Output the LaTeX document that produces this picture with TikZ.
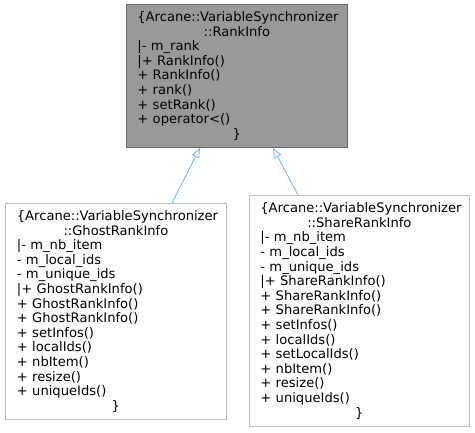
\documentclass[tikz,border=0pt]{standalone}
\usepackage{fontspec}
\setmainfont{DejaVu Sans}
\usetikzlibrary{arrows.meta,calc}
\definecolor{inhcol}{HTML}{63B8FF}
\definecolor{rootfill}{HTML}{999999}
\definecolor{rootline}{HTML}{666666}
\definecolor{boxline}{HTML}{BFBFBF}
\tikzset{
  cls/.style={draw, rectangle, inner xsep=0pt, inner ysep=0pt, line width=0.8bp,
    font=\fontsize{13.1bp}{14.6bp}\selectfont, anchor=north west},
  rootcls/.style={cls, draw=rootline, fill=rootfill},
  subcls/.style={cls, draw=boxline, fill=white},
  inh/.style={draw=inhcol, line width=0.8bp,
    {Triangle[open, length=10bp, width=8bp, fill=white]}-},
}
\begin{document}
\begin{tikzpicture}[x=1bp, y=-1bp]
\path[use as bounding box, fill=white] (0,0) rectangle (475,432);
\node[rootcls, minimum width=221bp, minimum height=143bp, text width=199bp] (rank) at (126,4)
 {\centering \{Arcane::VariableSynchronizer\\::RankInfo\par
  \raggedright |- m\_rank\\|+ RankInfo()\\+ RankInfo()\\+ rank()\\+ setRank()\\+ operator<()\par
  \centering \}\par};
\node[subcls, minimum width=221bp, minimum height=216bp, text width=198bp] (ghost) at (5,203)
 {\centering \{Arcane::VariableSynchronizer\\::GhostRankInfo\par
  \raggedright |- m\_nb\_item\\- m\_local\_ids\\- m\_unique\_ids\\|+ GhostRankInfo()\\+ GhostRankInfo()\\+ GhostRankInfo()\\+ setInfos()\\+ localIds()\\+ nbItem()\\+ resize()\\+ uniqueIds()\par
  \centering \}\par};
\node[subcls, minimum width=220bp, minimum height=231bp, text width=198bp] (share) at (249,195)
 {\centering \{Arcane::VariableSynchronizer\\::ShareRankInfo\par
  \raggedright |- m\_nb\_item\\- m\_local\_ids\\- m\_unique\_ids\\|+ ShareRankInfo()\\+ ShareRankInfo()\\+ ShareRankInfo()\\+ setInfos()\\+ localIds()\\+ setLocalIds()\\+ nbItem()\\+ resize()\\+ uniqueIds()\par
  \centering \}\par};
\draw[inh] ($(rank.south west)+(74,0)$) -- ($(ghost.north west)+(167,0)$);
\draw[inh] ($(rank.south west)+(147,0)$) -- ($(share.north west)+(49,0)$);
\end{tikzpicture}
\end{document}
